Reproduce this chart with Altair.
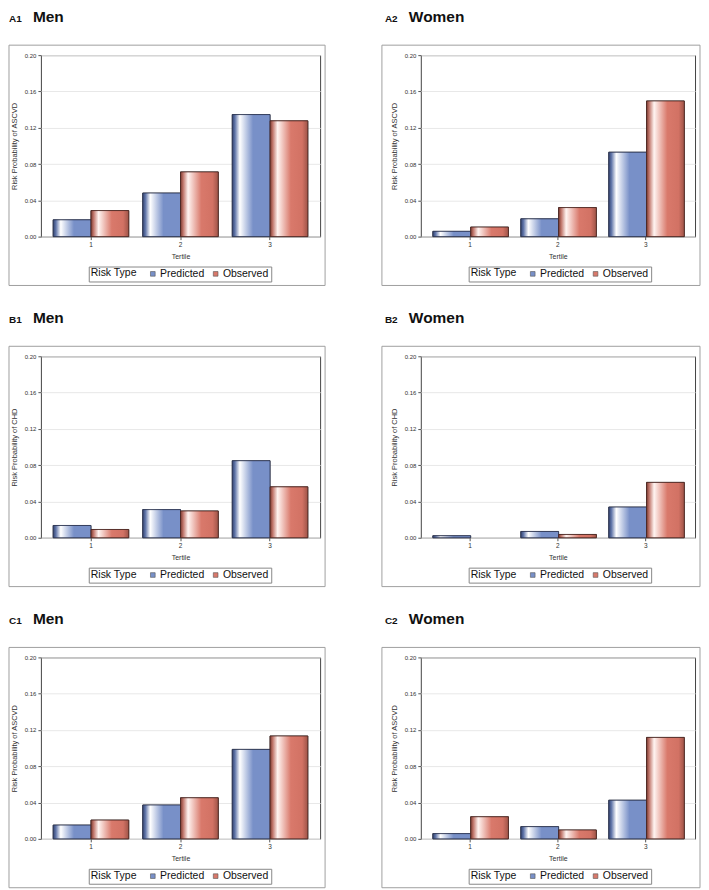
import altair as alt
import pandas as pd

tertiles = ["1", "2", "3"]
risk_types = ["Predicted", "Observed"]

a1_pred = [0.0185, 0.048, 0.1345]
a1_obs = [0.0287, 0.0713, 0.1276]
a2_pred = [0.0058, 0.0196, 0.093]
a2_obs = [0.0105, 0.032, 0.1495]
b1_pred = [0.0135, 0.031, 0.0849]
b1_obs = [0.0091, 0.0295, 0.0561]
b2_pred = [0.0022, 0.0069, 0.0338]
b2_obs = [0.0, 0.0036, 0.061]
c1_pred = [0.0152, 0.0373, 0.0986]
c1_obs = [0.0207, 0.0453, 0.1134]
c2_pred = [0.0058, 0.0135, 0.0426]
c2_obs = [0.0244, 0.0098, 0.1118]

FONT = "Liberation Sans"
H = 182

blue_grad = alt.Gradient(
    gradient="linear", x1=0, x2=1, y1=0, y2=0,
    stops=[
        alt.GradientStop(color="#34446f", offset=0),
        alt.GradientStop(color="#5f74a8", offset=0.07),
        alt.GradientStop(color="#ffffff", offset=0.2),
        alt.GradientStop(color="#7890c8", offset=0.55),
        alt.GradientStop(color="#7890c8", offset=1),
    ],
)
red_grad = alt.Gradient(
    gradient="linear", x1=0, x2=1, y1=0, y2=0,
    stops=[
        alt.GradientStop(color="#7a3a30", offset=0),
        alt.GradientStop(color="#c0756a", offset=0.07),
        alt.GradientStop(color="#fff4f1", offset=0.2),
        alt.GradientStop(color="#d9796b", offset=0.55),
        alt.GradientStop(color="#d27264", offset=0.85),
        alt.GradientStop(color="#9e5448", offset=1),
    ],
)


def panel(pred, obs, label, sex, ytitle, left):
    W = 280 if left else 275
    fx0 = -32 if left else -39
    fx1 = W + 5
    tx = -32 if left else -36
    rows = []
    for t, p, o in zip(tertiles, pred, obs):
        rows.append({"tertile": t, "type": "Predicted", "value": p})
        rows.append({"tertile": t, "type": "Observed", "value": o})
    df = pd.DataFrame(rows)

    x = alt.X(
        "tertile:N",
        sort=tertiles,
        scale=alt.Scale(domain=tertiles, paddingInner=0.156, paddingOuter=0.137),
        axis=alt.Axis(title="Tertile", labelAngle=0, labelFontSize=6.5,
                      titleFontSize=7, titleFontWeight="normal", tickSize=3,
                      labelPadding=2, titlePadding=4, domain=False,
                      labelColor="#333", titleColor="#333", tickColor="#555"),
    )
    y = alt.Y(
        "value:Q",
        scale=alt.Scale(domain=[0, 0.2], nice=False),
        axis=alt.Axis(title=ytitle, values=[0, 0.04, 0.08, 0.12, 0.16, 0.2],
                      format=".2f", labelFontSize=6, titleFontSize=7.5,
                      titleFontWeight="normal", tickSize=3, labelPadding=2,
                      titlePadding=6, grid=True, gridColor="#e8e8e8",
                      domain=False, labelColor="#333", titleColor="#333",
                      tickColor="#555"),
    )
    xo = alt.XOffset("type:N", sort=risk_types,
                     scale=alt.Scale(domain=risk_types, paddingInner=0))

    base = alt.Chart(df).transform_filter(alt.datum.value > 0).mark_bar(
        stroke="#333", strokeWidth=0.8
    ).encode(
        x=x, y=y, xOffset=xo,
        color=alt.Color(
            "type:N",
            sort=risk_types,
            scale=alt.Scale(domain=risk_types, range=["#7890c8", "#d9796b"]),
            legend=alt.Legend(
                title="Risk Type", orient="none", legendX=48, legendY=H + 30,
                direction="horizontal", titleOrient="left", strokeColor="#888",
                padding=2, labelFontSize=10.5, titleFontSize=10.5,
                titleFontWeight="normal", titleColor="#111", labelColor="#111",
                titleBaseline="middle", titleAnchor="middle",
                symbolType="square", symbolSize=22, symbolStrokeColor="#555",
                symbolStrokeWidth=0.6, columnPadding=6, titlePadding=10,
                labelOffset=2, fillColor="white",
            ),
        ),
    )
    pb = alt.Chart(df).transform_filter(
        (alt.datum.type == "Predicted") & (alt.datum.value > 0)
    ).mark_bar(fill=blue_grad, stroke="#2b3352", strokeWidth=0.8).encode(
        x=x, y=y, xOffset=xo)
    ob = alt.Chart(df).transform_filter(
        (alt.datum.type == "Observed") & (alt.datum.value > 0)
    ).mark_bar(fill=red_grad, stroke="#4a2520", strokeWidth=0.8).encode(
        x=x, y=y, xOffset=xo)

    one = pd.DataFrame({"label": [label], "sex": [sex]})
    frame = alt.Chart(one).mark_rect(fill="transparent", stroke="#a0a0a0", strokeWidth=1).encode(
        x=alt.value(fx0), x2=alt.value(fx1), y=alt.value(-10), y2=alt.value(H + 49)
    )
    t1 = alt.Chart(one).mark_text(font=FONT, fontSize=10, fontWeight="bold", align="left",
                                  baseline="alphabetic", color="#111").encode(
        text="label:N", x=alt.value(tx), y=alt.value(-33))
    t2 = alt.Chart(one).mark_text(font=FONT, fontSize=15.5, fontWeight="bold", align="left",
                                  baseline="alphabetic", color="#111").encode(
        text="sex:N", x=alt.value(tx + 24), y=alt.value(-33))

    return alt.layer(frame, base, pb, ob, t1, t2).properties(width=W, height=H)


def row(p1, p2):
    return alt.hconcat(p1, p2, spacing=55).resolve_legend(
        color="independent").resolve_scale(color="independent")


row_a = row(
    panel(a1_pred, a1_obs, "A1", "Men", "Risk Probability of ASCVD", True),
    panel(a2_pred, a2_obs, "A2", "Women", "Risk Probability of ASCVD", False),
)
row_b = row(
    panel(b1_pred, b1_obs, "B1", "Men", "Risk Probability of CHD", True),
    panel(b2_pred, b2_obs, "B2", "Women", "Risk Probability of CHD", False),
)
row_c = row(
    panel(c1_pred, c1_obs, "C1", "Men", "Risk Probability of ASCVD", True),
    panel(c2_pred, c2_obs, "C2", "Women", "Risk Probability of ASCVD", False),
)

chart = alt.vconcat(row_a, row_b, row_c, spacing=24).resolve_legend(
    color="independent"
).resolve_scale(color="independent").properties(
    padding=0, background="white"
).configure(font=FONT).configure_view(stroke="#444", strokeWidth=1)

chart.save("out.html", embed_options={"renderer": "svg", "actions": False})
